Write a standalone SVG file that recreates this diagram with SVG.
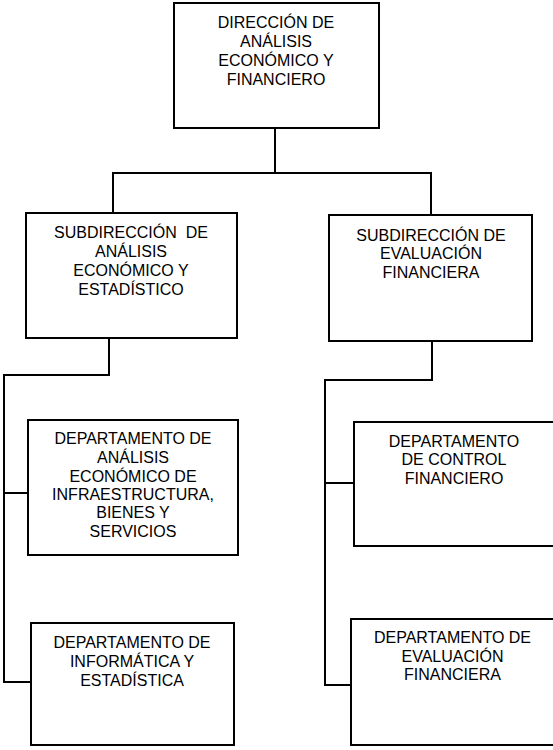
<svg xmlns="http://www.w3.org/2000/svg" width="553" height="750" viewBox="0 0 553 750">
<style>
.box{fill:#fff;stroke:#000;stroke-width:2}
.ln{fill:none;stroke:#000;stroke-width:2}
text{font-family:"Liberation Sans",Arial,sans-serif;font-size:16px;fill:#000;text-anchor:middle;white-space:pre}
</style>
<rect width="553" height="750" fill="#fff"/>
<g id="connectors">
<polyline class="ln" points="275,128 275,173"/>
<polyline class="ln" points="113,213 113,173 431,173 431,215"/>
<polyline class="ln" points="109,338 109,375 4,375 4,682 31,682"/>
<polyline class="ln" points="4,493 28,493"/>
<polyline class="ln" points="432,341 432,380 325,380 325,685 352,685"/>
<polyline class="ln" points="325,483 354,483"/>
</g>
<g id="n-direccion">
<rect class="box" x="174" y="3" width="205" height="125"/>
<text x="276" y="28">DIRECCIÓN DE</text>
<text x="276" y="47">ANÁLISIS</text>
<text x="276" y="66">ECONÓMICO Y</text>
<text x="276" y="85">FINANCIERO</text>
</g>
<g id="n-sub-analisis">
<rect class="box" x="26" y="213" width="211" height="125"/>
<text x="131" y="238" xml:space="preserve">SUBDIRECCIÓN  DE</text>
<text x="131" y="257">ANÁLISIS</text>
<text x="131" y="276">ECONÓMICO Y</text>
<text x="131" y="295">ESTADÍSTICO</text>
</g>
<g id="n-sub-evaluacion">
<rect class="box" x="329" y="215" width="203" height="126"/>
<text x="431" y="241">SUBDIRECCIÓN DE</text>
<text x="431" y="259">EVALUACIÓN</text>
<text x="431" y="278">FINANCIERA</text>
</g>
<g id="n-dep-infra">
<rect class="box" x="28" y="420" width="210" height="135"/>
<text x="133" y="444">DEPARTAMENTO DE</text>
<text x="133" y="463">ANÁLISIS</text>
<text x="133" y="482">ECONÓMICO DE</text>
<text x="133" y="500">INFRAESTRUCTURA,</text>
<text x="133" y="518">BIENES Y</text>
<text x="133" y="537">SERVICIOS</text>
</g>
<g id="n-dep-informatica">
<rect class="box" x="31" y="623" width="203" height="122"/>
<text x="132" y="648">DEPARTAMENTO DE</text>
<text x="132" y="667">INFORMÁTICA Y</text>
<text x="132" y="686">ESTADÍSTICA</text>
</g>
<g id="n-dep-control">
<rect class="box" x="354" y="422" width="202" height="124"/>
<text x="454" y="447">DEPARTAMENTO</text>
<text x="454" y="465">DE CONTROL</text>
<text x="454" y="484">FINANCIERO</text>
</g>
<g id="n-dep-evaluacion">
<rect class="box" x="351" y="619" width="205" height="126"/>
<text x="452.5" y="643">DEPARTAMENTO DE</text>
<text x="452.5" y="662">EVALUACIÓN</text>
<text x="452.5" y="680">FINANCIERA</text>
</g>
</svg>
